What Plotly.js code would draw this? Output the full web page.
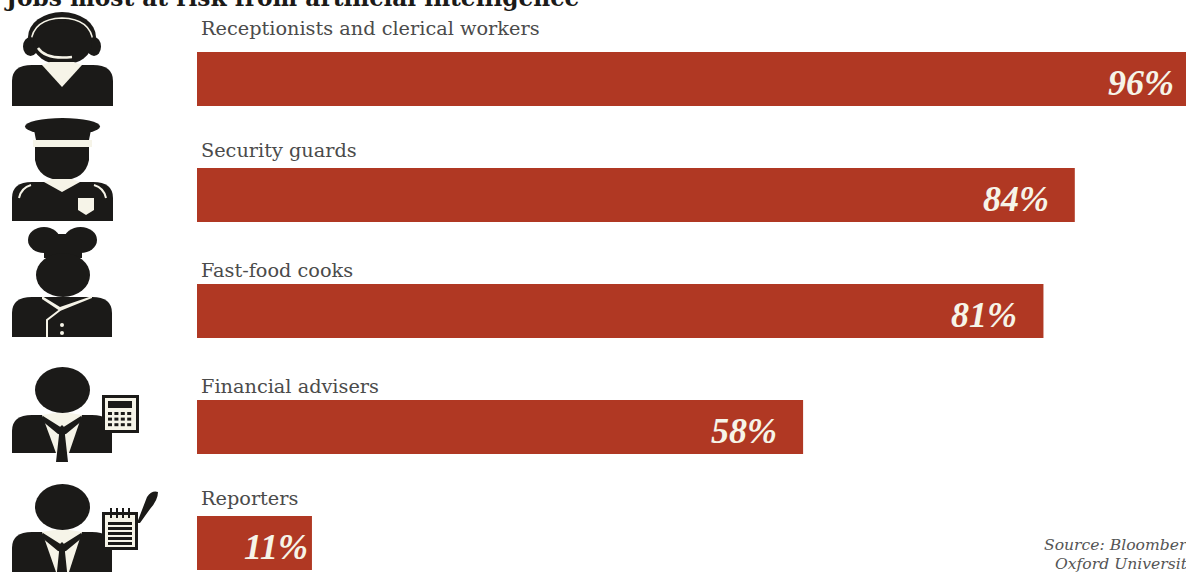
<!DOCTYPE html>
<html>
<head>
<meta charset="utf-8">
<script src="https://cdn.plot.ly/plotly-3.0.1.min.js"></script>
<style>html,body{margin:0;padding:0;background:#fff;overflow:hidden}#chart{width:1186px;height:572px}</style>
</head>
<body>
<div id="chart"></div>
<script>
const occupations = ["Receptionists and clerical workers", "Security guards", "Fast-food cooks", "Financial advisers", "Reporters"];
const riskPercent = [96, 84, 81, 58, 11];
const chartTitle = "Jobs most at risk from artificial intelligence";
const sourceLines = ["Source: Bloomberg,", "Oxford University"];

const W = 1186, H = 572;
const INK = "#1b1a18", PAPER = "#f6f4e8", BAR = "#b03823";
const SERIF = "'Liberation Serif', serif";
const WIDE_SERIF = "'DejaVu Serif', serif";

// Axis window: zero sits at x=197 and each percentage point spans 10.45px
const xRange = [-197 / 10.45, (W - 197) / 10.45];
const yRange = [(H - 79) / 116, -79 / 116];
const xFrac = v => (v - xRange[0]) / (xRange[1] - xRange[0]);

// Pixel-style pictogram coordinates are converted to paper fractions
const pathOf = d => { let i = 0; return d.replace(/-?[\d.]+/g, n => (i++ % 2 === 0) ? (n / W).toFixed(5) : (1 - n / H).toFixed(5)); };
const base = { xref: "paper", yref: "paper", layer: "above" };
const fill = (d, c) => ({ ...base, type: "path", path: pathOf(d), fillcolor: c || INK, line: { width: 0 } });
const stroke = (d, c, w) => ({ ...base, type: "path", path: pathOf(d), line: { color: c || PAPER, width: w || 2 } });
const oval = (x0, y0, x1, y1, c) => ({ ...base, type: "circle", x0: x0 / W, x1: x1 / W, y0: 1 - y1 / H, y1: 1 - y0 / H, fillcolor: c || INK, line: { width: 0 } });
const box = (x0, y0, x1, y1, c) => ({ ...base, type: "rect", x0: x0 / W, x1: x1 / W, y0: 1 - y1 / H, y1: 1 - y0 / H, fillcolor: c || INK, line: { width: 0 } });

// Rounded shoulders shared by the figures
const torso = (l, r, t, b) => fill(`M${l} ${b} L${l} ${t + 16} Q${l} ${t} ${l + 20} ${t} L${r - 20} ${t} Q${r} ${t} ${r} ${t + 16} L${r} ${b} Z`);

// Suit with open collar and tie, used by the two office figures
function suit(t, b) {
  return [
    torso(12, 112, t, b),
    fill(`M42 ${t} L56 ${b} L69 ${b} L82 ${t} L70 ${t - 2} L54 ${t - 2} Z`, PAPER),
    fill(`M43 ${t + 1} L62 ${t + 13} L81 ${t + 1} L83 ${t + 5} L66 ${t + 19} L58 ${t + 19} L41 ${t + 5} Z`),
    fill(`M58 ${t + 14} L62 ${t + 10} L66 ${t + 14} L65 ${t + 20} L68 ${b + 9} L56 ${b + 9} L59 ${t + 20} Z`)
  ];
}

const iconShapes = [
  // headset
  oval(28, 12, 96, 62),
  stroke("M31 42 Q33 19 62 18 Q91 19 93 42", PAPER, 1.5),
  oval(23, 37, 38, 56), oval(87, 37, 101, 56),
  oval(33, 22, 92, 65),
  stroke("M38 48 Q46 60 72 57", PAPER, 2.5),
  torso(12, 113, 65, 106),
  fill("M42 65 L62 87 L82 65 L74 62 L50 62 Z", PAPER),
  // guard
  oval(25, 118, 100, 135),
  fill("M34 130 L91 130 L89 140 L36 140 Z"),
  box(33, 140, 92, 147, PAPER),
  fill("M35 147 L89 147 L89 160 Q85 180 62 180 Q39 180 35 160 Z"),
  torso(12, 113, 182, 221),
  fill("M44 182 L62 192 L80 182 L72 179 L52 179 Z", PAPER),
  stroke("M19 198 Q21 188 31 185", PAPER, 2),
  stroke("M106 198 Q104 188 94 185", PAPER, 2),
  fill("M78 198 L94 198 L94 210 L86 215 L78 210 Z", PAPER),
  // chef
  oval(28, 227, 60, 253), oval(64, 227, 97, 253),
  box(44, 234, 82, 258),
  oval(36, 253, 90, 297),
  torso(12, 112, 297, 337),
  fill("M42 296 L60 307 L92 296 L92 298 L60 311 L42 299 Z", PAPER),
  stroke("M47 337 L47 320 L60 310", PAPER, 2),
  oval(60, 323, 64, 327, PAPER), oval(60, 331, 64, 335, PAPER),
  // financial adviser
  oval(35, 367, 90, 413),
  ...suit(415, 453),
  box(102, 395, 139, 433),
  box(105, 398, 136, 430, PAPER),
  box(108, 401, 132, 408),
  ...[0, 1, 2, 3].flatMap(c => [0, 1, 2].map(r => box(108 + c * 6.4, 412 + r * 5.6, 112 + c * 6.4, 415 + r * 5.6))),
  // reporter
  oval(35, 484, 90, 530),
  ...suit(532, 572),
  box(102, 512, 138, 550),
  box(105, 515, 135, 547, PAPER),
  ...[0, 1, 2, 3].map(c => box(110 + c * 6, 508, 112 + c * 6, 518)),
  ...[0, 1, 2, 3, 4].map(r => box(108, 522 + r * 5, 132, 525 + r * 5)),
  fill("M137 523 L147 497 Q152 490 158 492 Q158 500 150 509 L140 523 Z")
];

const valueLabels = riskPercent.map((v, i) => ({
  xref: "paper", yref: "y",
  x: xFrac(v), xshift: v < 20 ? -2 : -24, xanchor: "right",
  y: occupations[i], yanchor: "middle", yshift: -4,
  text: v + "%", showarrow: false,
  font: { family: SERIF, size: 36, color: PAPER, weight: 700, style: "italic" }
}));

// Category names sit just above their bars
const labelLift = [51, 45, 41, 41, 45];
const nameLabels = occupations.map((name, i) => ({
  xref: "paper", yref: "y",
  x: 199 / W, xanchor: "left",
  y: name, yanchor: "middle", yshift: labelLift[i],
  text: name, showarrow: false,
  font: { family: WIDE_SERIF, size: 19.3, color: "#4b4b4b" }
}));

const titleLabel = {
  xref: "paper", yref: "paper", x: 2 / W, xanchor: "left",
  y: 1, yanchor: "top", yshift: 18,
  text: chartTitle, showarrow: false,
  font: { family: WIDE_SERIF, size: 23.3, color: INK, weight: 700 }
};

const sourceLabels = sourceLines.map((line, i) => ({
  xref: "paper", yref: "paper", x: [1042, 1053][i] / W, xanchor: "left",
  y: 1 - [545, 564][i] / H, yanchor: "middle",
  text: line, showarrow: false,
  font: { family: WIDE_SERIF, size: 15.6, color: "#555555", style: "italic" }
}));

Plotly.newPlot("chart", [{
  type: "bar",
  orientation: "h",
  y: occupations,
  x: riskPercent,
  width: 54 / 116,
  marker: { color: BAR, line: { width: 0 } },
  hoverinfo: "skip"
}], {
  width: W, height: H,
  margin: { l: 0, r: 0, t: 0, b: 0, pad: 0 },
  paper_bgcolor: "#ffffff", plot_bgcolor: "#ffffff",
  showlegend: false,
  xaxis: { visible: false, range: xRange, fixedrange: true },
  yaxis: { visible: false, type: "category", categoryorder: "array", categoryarray: occupations, range: yRange, fixedrange: true },
  shapes: iconShapes,
  annotations: [...nameLabels, ...valueLabels, titleLabel, ...sourceLabels]
}, { displayModeBar: false, staticPlot: true });
</script>
</body>
</html>
